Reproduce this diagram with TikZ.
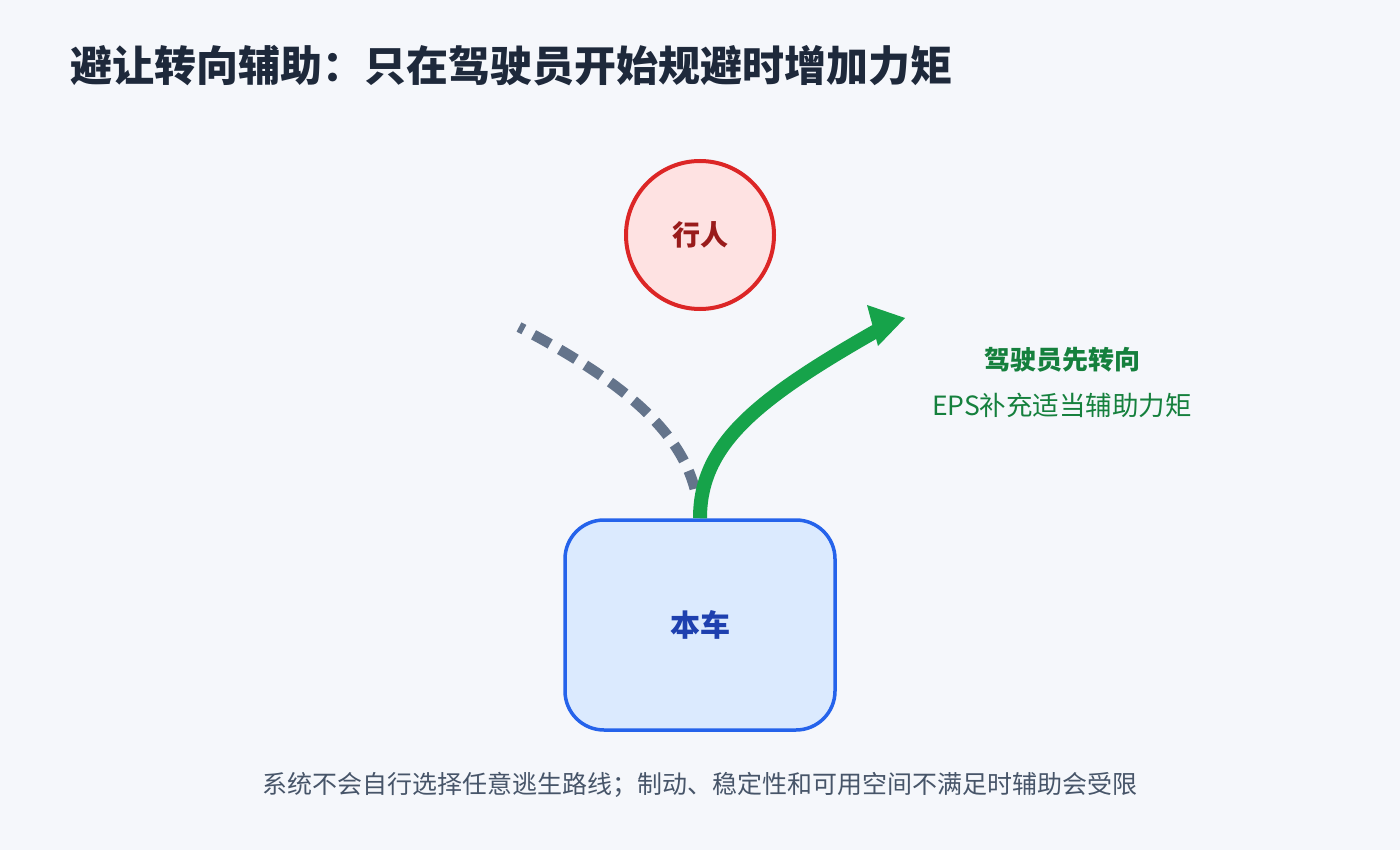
\documentclass[tikz,border=0pt]{standalone}
\usepackage{fontspec}
\setmainfont{Noto Sans CJK SC}
\usetikzlibrary{arrows.meta}
\definecolor{bgc}{HTML}{F5F7FB}
\definecolor{titlec}{HTML}{1E293B}
\definecolor{pedfill}{HTML}{FEE2E2}
\definecolor{peddraw}{HTML}{DC2626}
\definecolor{pedtext}{HTML}{991B1B}
\definecolor{carfill}{HTML}{DBEAFE}
\definecolor{cardraw}{HTML}{2563EB}
\definecolor{cartext}{HTML}{1E40AF}
\definecolor{steergreen}{HTML}{16A34A}
\definecolor{greentext}{HTML}{15803D}
\definecolor{dashgray}{HTML}{64748B}
\definecolor{notegray}{HTML}{475569}
\tikzset{
  fs/.style={font=\fontsize{#1}{#1}\selectfont},
  fsb/.style={font=\fontsize{#1}{#1}\selectfont\bfseries},
  pedstyle/.style={circle, draw=peddraw, fill=pedfill, line width=4pt, minimum size=148pt, inner sep=0pt, text=pedtext, fsb=28},
  carstyle/.style={rectangle, rounded corners=39pt, draw=cardraw, fill=carfill, line width=3.5pt, minimum width=270pt, minimum height=210pt, inner sep=0pt, text=cartext, fsb=30},
  pathgreen/.style={draw=steergreen, line width=14pt},
  headgreen/.style={fill=steergreen},
  dashpath/.style={draw=dashgray, line width=10.5pt, dash pattern=on 19pt off 11pt, dash phase=13.5pt},
  labelgreen/.style={text=greentext, inner sep=0pt},
  notestyle/.style={text=notegray, inner sep=0pt, fs=25},
}
\begin{document}
\begin{tikzpicture}[x=1pt,y=-1pt]
\fill[bgc] (0,0) rectangle (1400,850);
\useasboundingbox (0,0) rectangle (1400,850);

\node[anchor=west, inner sep=0pt, text=titlec, fsb=42] (title) at (70,66) {避让转向辅助：只在驾驶员开始规避时增加力矩};

\node[pedstyle] (ped) at (700,235) {行人};
\node[carstyle] (car) at (700,625) {本车};

% dashed path (straight-line path not taken)
\coordinate (dstart) at (519,327);
\coordinate (dend) at (696,494);
\path[dashpath] (dstart) .. controls (620,380) and (682,430) .. (dend);

% green steering path
\coordinate (gend) at (876,331);
\coordinate (tipA) at (867,305);
\coordinate (tip) at (905,318);
\coordinate (tipB) at (878,346);
\path[pathgreen] (car.north) .. controls (700,445) and (755,400) .. (gend);
\path[headgreen] (tipA) -- (tip) -- (tipB) -- cycle;

\node[labelgreen, fsb=26] (lab1) at (1062,360) {驾驶员先转向};
\node[labelgreen, fs=26.5] (lab2) at (1062,405) {EPS补充适当辅助力矩};

\node[notestyle] (note) at (700,785) {系统不会自行选择任意逃生路线；制动、稳定性和可用空间不满足时辅助会受限};
\end{tikzpicture}
\end{document}
